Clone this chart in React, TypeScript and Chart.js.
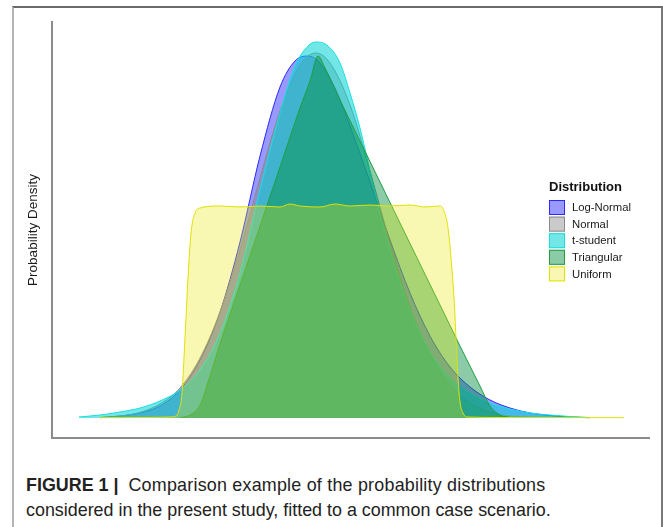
import React, { useEffect, useRef } from 'react';
import { Chart, registerables } from 'chart.js';

Chart.register(...registerables);

// x values are positions along the (unlabelled) horizontal axis, y values are densities (arbitrary units)
const seriesNames = ['Log-Normal', 'Normal', 't-student', 'Triangular', 'Uniform'];

const logNormalX = [21, 41, 61, 81, 101, 121, 141, 161, 181, 201, 216, 229, 241, 256, 271, 291, 311, 331, 351, 371, 391, 411, 431, 451, 471, 491, 511];
const logNormalY = [0.5, 2, 5, 12, 28, 58, 106, 176, 262, 331, 357, 362, 355, 330, 292, 236, 178, 125, 82, 51, 31, 18, 10, 5, 2.5, 1, 0.3];

const normalX = [21, 41, 61, 81, 101, 121, 141, 161, 181, 201, 221, 237, 251, 271, 291, 311, 331, 351, 371, 391, 411, 431, 451];
const normalY = [0.3, 2, 5.6, 14, 30, 60, 106, 168, 240, 307, 353, 365, 355, 313, 247, 175, 111, 64, 33, 15, 6, 2, 0.5];

const tStudentX = [0, 21, 41, 61, 81, 101, 121, 141, 161, 181, 201, 216, 229, 237, 249, 261, 271, 281, 296, 311, 331, 351, 371, 391, 411, 431, 451, 471, 491, 511];
const tStudentY = [1, 3, 6, 10, 17, 28, 48, 85, 145, 228, 305, 352, 372, 376, 372, 355, 325, 290, 225, 168, 108, 66, 40, 25, 15, 9, 5, 3, 1.5, 0.5];

const triangularX = [101, 111, 121, 131, 141, 161, 181, 201, 221, 231, 239, 246, 261, 281, 301, 321, 341, 361, 381, 401, 411, 421, 431];
const triangularY = [0.5, 3, 13, 42, 74, 133, 192, 251, 310, 337, 362, 350, 318, 277, 236, 195, 154, 113, 72, 32, 12, 3, 0.5];

const uniformX = [21, 71, 91, 97, 100, 103, 106, 109, 112, 116, 121, 141, 161, 181, 201, 211, 221, 241, 256, 271, 291, 311, 331, 346, 361, 365, 369, 372, 375, 377, 379, 381, 384, 389, 421, 481, 545];
const uniformY = [0.3, 0.5, 1, 2, 8, 25, 80, 140, 185, 205, 210, 212, 211, 212, 211, 214, 212, 211, 214, 212, 213, 212, 213, 211, 212, 207, 190, 160, 120, 80, 40, 16, 5, 1, 0.5, 0.4, 0.3];

const lineColors = ['#2a2aff', '#8a8a8a', '#14e0e0', '#1e9e40', '#e0e000'];
const fillColors = [
  'rgba(0,0,255,0.4)',
  'rgba(128,128,128,0.42)',
  'rgba(0,212,212,0.55)',
  'rgba(0,140,60,0.45)',
  'rgba(232,232,0,0.3)',
];

const FONT = '"Liberation Sans", Arial, Helvetica, sans-serif';

function pts(xs: number[], ys: number[]) {
  return xs.map((x, i) => ({ x, y: ys[i] }));
}

const legendPlugin = {
  id: 'insideLegend',
  afterDraw(chart: any) {
    const ctx = chart.ctx as CanvasRenderingContext2D;
    ctx.save();
    ctx.fillStyle = '#111';
    ctx.font = `bold 13px ${FONT}`;
    ctx.textBaseline = 'middle';
    ctx.textAlign = 'left';
    ctx.fillText('Distribution', 549, 187);
    ctx.font = `11.3px ${FONT}`;
    seriesNames.forEach((name, i) => {
      const y = 200 + i * 16.6;
      ctx.fillStyle = '#ffffff';
      ctx.fillRect(549, y, 16, 15);
      ctx.fillStyle = fillColors[i];
      ctx.fillRect(549, y, 16, 15);
      ctx.strokeStyle = lineColors[i];
      ctx.lineWidth = 1;
      ctx.strokeRect(549.5, y + 0.5, 15, 14);
      ctx.fillStyle = '#1a1a1a';
      ctx.fillText(name, 572, y + 8);
    });
    ctx.restore();
  },
};

export default function App() {
  const ref = useRef<HTMLCanvasElement | null>(null);

  useEffect(() => {
    if (!ref.current) return;
    const xs = [logNormalX, normalX, tStudentX, triangularX, uniformX];
    const ys = [logNormalY, normalY, tStudentY, triangularY, uniformY];
    const datasets = seriesNames.map((name, i) => ({
      label: name,
      data: pts(xs[i], ys[i]),
      borderColor: lineColors[i],
      backgroundColor: fillColors[i],
      borderWidth: 1,
      pointRadius: 0,
      fill: 'origin',
      cubicInterpolationMode: 'monotone' as const,
      order: seriesNames.length - i,
    }));
    const chart = new Chart(ref.current, {
      type: 'line',
      data: { datasets },
      options: {
        animation: false,
        responsive: false,
        devicePixelRatio: 1,
        layout: { padding: { left: 0, top: 22, right: 14, bottom: 22 } },
        plugins: { legend: { display: false }, tooltip: { enabled: false } },
        scales: {
          x: {
            type: 'linear',
            min: -27,
            max: 570,
            grid: { display: false },
            ticks: { display: false },
            border: { display: true, color: '#8c8c8c', width: 2 },
            afterFit: (s: any) => { s.height = 0; },
          },
          y: {
            type: 'linear',
            min: -20,
            max: 396,
            grid: { display: false },
            ticks: { display: false },
            border: { display: true, color: '#8c8c8c', width: 2 },
            title: {
              display: true,
              text: 'Probability Density',
              color: '#1a1a1a',
              font: { family: FONT, size: 13.5 },
              padding: { top: 25, bottom: 0 },
            },
            afterFit: (s: any) => { s.width = 52; },
          },
        },
      },
      plugins: [legendPlugin],
    });
    return () => chart.destroy();
  }, []);

  return (
    <div style={{ position: 'absolute', left: 0, top: 0, width: 663, height: 527, overflow: 'hidden', background: '#fff' }}>
      <div
        style={{
          position: 'absolute',
          left: 12,
          top: 6,
          width: 647,
          height: 540,
          borderTop: '2px solid #6a6a6a',
          borderLeft: '2px solid #b4b4b4',
          borderRight: '2px solid #777',
          boxSizing: 'content-box',
        }}
      />
      <canvas ref={ref} width={663} height={460} style={{ position: 'absolute', left: 0, top: 0, width: 663, height: 460 }} />
      <div
        style={{
          position: 'absolute',
          left: 26,
          top: 473,
          fontFamily: FONT,
          fontSize: 17.9,
          lineHeight: '25px',
          color: '#222',
          whiteSpace: 'nowrap',
        }}
      >
        <b style={{ marginRight: 5 }}>FIGURE 1 |</b>{' '}
        <span style={{ letterSpacing: 0.22 }}>Comparison example of the probability distributions</span>
        <br />
        considered in the present study, fitted to a common case scenario.
      </div>
    </div>
  );
}
